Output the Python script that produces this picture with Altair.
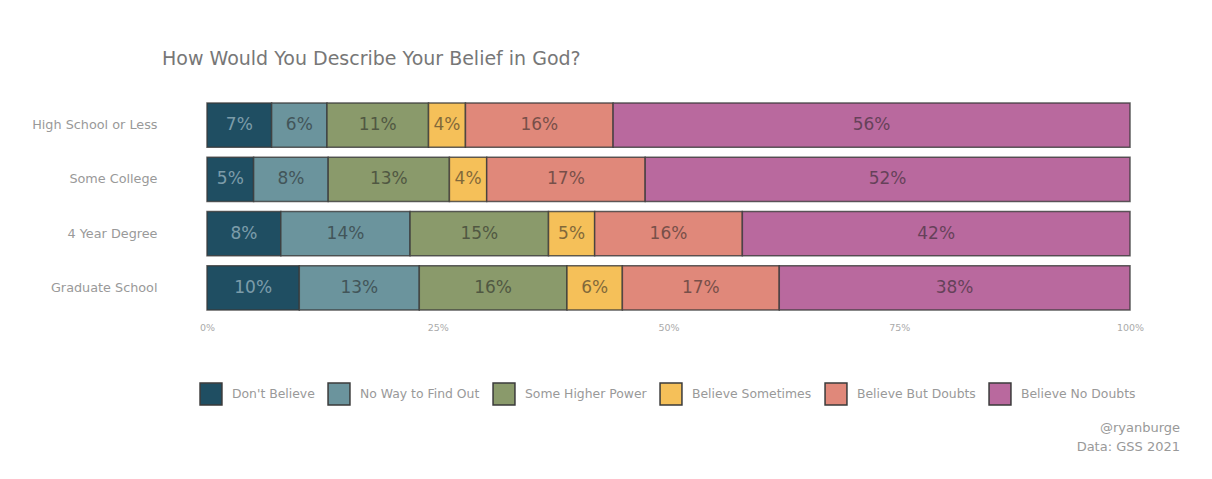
import altair as alt
import pandas as pd

education = ["High School or Less", "Some College", "4 Year Degree", "Graduate School"]
beliefs = ["Don't Believe", "No Way to Find Out", "Some Higher Power",
           "Believe Sometimes", "Believe But Doubts", "Believe No Doubts"]
colors = ["#1f4e62", "#6b949d", "#8a9a6b", "#f5c059", "#e0887a", "#b9699e"]

hs_less = [7, 6, 11, 4, 16, 56]
some_college = [5, 8, 13, 4, 17, 52]
four_year = [8, 14, 15, 5, 16, 42]
graduate = [10, 13, 16, 6, 17, 38]

series = [hs_less, some_college, four_year, graduate]
rows = []
for edu, vals in zip(education, series):
    for k, (b, v) in enumerate(zip(beliefs, vals)):
        rows.append({"edu": edu, "belief": b, "k": k, "value": v, "label": f"{v}%"})
df = pd.DataFrame(rows)

FONT = "DejaVu Sans"

base = alt.Chart(df).transform_stack(
    stack="value", groupby=["edu"], as_=["x0", "x1"],
    sort=[alt.SortField("k", order="ascending")], offset="normalize"
).transform_calculate(mid="(datum.x0 + datum.x1) / 2")

y_enc = alt.Y("edu:N", sort=education, title=None,
              scale=alt.Scale(paddingInner=0.18, paddingOuter=0.09),
              axis=alt.Axis(ticks=False, domain=False, labelPadding=50,
                            labelFontSize=12.8, labelColor="#999", labelFont=FONT))

bars = base.mark_bar(stroke="#3a3a3a", strokeWidth=1.5, strokeOpacity=0.8).encode(
    x=alt.X("x0:Q", title=None,
            scale=alt.Scale(domain=[0, 1], nice=False, padding=0),
            axis=alt.Axis(values=[0, 0.25, 0.5, 0.75, 1], format=".0%", grid=False,
                          ticks=False, domain=False, labelPadding=7, labelFlush=False,
                          labelFontSize=9.5, labelColor="#aaa", labelFont=FONT)),
    x2="x1:Q",
    y=y_enc,
    color=alt.Color("belief:N", sort=beliefs,
                    scale=alt.Scale(domain=beliefs, range=colors),
                    legend=alt.Legend(title=None, orient="none", direction="horizontal",
                                      legendX=-8, legendY=284, symbolType="square",
                                      symbolSize=480, symbolStrokeColor="#3a3a3a",
                                      symbolStrokeWidth=1.5, symbolOpacity=1,
                                      labelFontSize=12.4, labelColor="#999",
                                      labelFont=FONT, labelOffset=9, columnPadding=10)),
)

labels = base.mark_text(fontSize=17, font=FONT, opacity=0.55).encode(
    x="mid:Q",
    y=alt.Y("edu:N", sort=education),
    text="label:N",
    color=alt.condition("datum.k == 0", alt.value("#c8dde4"), alt.value("#222")),
)

caption = alt.Chart(pd.DataFrame({"t": [["@ryanburge", "Data: GSS 2021"]]})).mark_text(
    align="right", baseline="middle", fontSize=13, font=FONT, color="#999", lineHeight=19
).encode(x=alt.value(973), y=alt.value(330), text="t")

chart = alt.layer(bars, labels, caption).properties(
    width=923, height=217,
    autosize=alt.AutoSizeParams(type="none"),
    padding={"left": 199, "top": 90, "right": 74, "bottom": 150},
    title=alt.TitleParams("How Would You Describe Your Belief in God?", anchor="start",
                          frame="group", dx=-45, offset=29, fontSize=19,
                          fontWeight="normal", color="#777", font=FONT),
).configure_view(stroke=None)

chart.save("out.html", embed_options={"renderer": "svg", "actions": False})
